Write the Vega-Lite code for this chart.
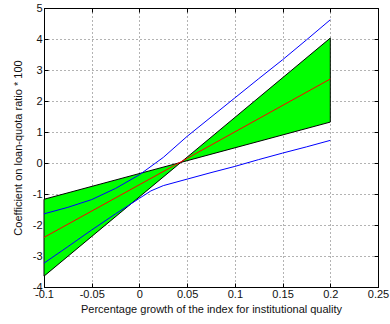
{
  "$schema": "https://vega.github.io/schema/vega-lite/v6.json",
  "width": 334,
  "height": 279,
  "autosize": {"type": "none"},
  "padding": {"left": 44, "top": 8, "right": 12, "bottom": 37},
  "background": "white",
  "config": {
    "view": {"stroke": "black", "strokeWidth": 1},
    "axis": {
      "labelFont": "Liberation Sans",
      "labelFontSize": 11,
      "labelColor": "#111",
      "titleFont": "Liberation Sans",
      "titleFontSize": 11,
      "titleFontWeight": "normal",
      "titleColor": "#111",
      "domainColor": "black",
      "tickColor": "black",
      "gridColor": "#000",
      "gridDash": [1, 3],
      "gridOpacity": 0.6
    }
  },
  "datasets": {
    "band": [
      {"x": -0.1, "a": -1.17, "b": -3.65},
      {"x": 0.0434, "a": 0.02, "b": 0.02},
      {"x": 0.2, "a": 1.32, "b": 4.03}
    ],
    "red": [
      {"x": -0.1, "y": -2.4},
      {"x": 0.05, "y": 0.15},
      {"x": 0.2, "y": 2.71}
    ],
    "blue": [
      {"x": -0.1, "y": -1.64, "s": "up"},
      {"x": -0.075, "y": -1.43, "s": "up"},
      {"x": -0.05, "y": -1.18, "s": "up"},
      {"x": -0.025, "y": -0.82, "s": "up"},
      {"x": 0, "y": -0.38, "s": "up"},
      {"x": 0.025, "y": 0.18, "s": "up"},
      {"x": 0.05, "y": 0.86, "s": "up"},
      {"x": 0.075, "y": 1.48, "s": "up"},
      {"x": 0.1, "y": 2.1, "s": "up"},
      {"x": 0.125, "y": 2.72, "s": "up"},
      {"x": 0.15, "y": 3.33, "s": "up"},
      {"x": 0.175, "y": 3.97, "s": "up"},
      {"x": 0.2, "y": 4.62, "s": "up"},
      {"x": -0.1, "y": -3.23, "s": "lo"},
      {"x": -0.075, "y": -2.7, "s": "lo"},
      {"x": -0.05, "y": -2.16, "s": "lo"},
      {"x": -0.025, "y": -1.64, "s": "lo"},
      {"x": 0, "y": -1.14, "s": "lo"},
      {"x": 0.012, "y": -0.9, "s": "lo"},
      {"x": 0.025, "y": -0.73, "s": "lo"},
      {"x": 0.05, "y": -0.52, "s": "lo"},
      {"x": 0.075, "y": -0.31, "s": "lo"},
      {"x": 0.1, "y": -0.11, "s": "lo"},
      {"x": 0.125, "y": 0.11, "s": "lo"},
      {"x": 0.15, "y": 0.32, "s": "lo"},
      {"x": 0.175, "y": 0.52, "s": "lo"},
      {"x": 0.2, "y": 0.73, "s": "lo"}
    ]
  },
  "resolve": {"axis": {"x": "independent", "y": "independent"}},
  "layer": [
    {
      "data": {"name": "band"},
      "mark": {"type": "area", "fill": "#00ff00", "stroke": "black", "strokeWidth": 1, "fillOpacity": 1},
      "encoding": {
        "x": {
          "field": "x", "type": "quantitative",
          "scale": {"domain": [-0.1, 0.25], "nice": false, "zero": false},
          "axis": {
            "orient": "bottom",
            "values": [-0.1, -0.05, 0, 0.05, 0.1, 0.15, 0.2, 0.25],
            "labelExpr": "'' + datum.value",
            "title": "Percentage growth of the index for institutional quality",
            "tickSize": -4, "labelPadding": 5, "titlePadding": 4,
            "grid": true, "labelFlush": false
          }
        },
        "y": {
          "field": "a", "type": "quantitative",
          "scale": {"domain": [-4, 5], "nice": false, "zero": false},
          "axis": {
            "orient": "left",
            "values": [-4, -3, -2, -1, 0, 1, 2, 3, 4, 5],
            "labelExpr": "'' + datum.value",
            "title": "Coefficient on loan-quota ratio * 100",
            "tickSize": -4, "labelPadding": 6, "titlePadding": 9,
            "grid": true, "labelFlush": false
          }
        },
        "y2": {"field": "b"}
      }
    },
    {
      "data": {"name": "blue"},
      "mark": {"type": "line", "stroke": "#0000ff", "strokeWidth": 1},
      "encoding": {
        "x": {
          "field": "x", "type": "quantitative",
          "axis": {"orient": "top", "values": [-0.1, -0.05, 0, 0.05, 0.1, 0.15, 0.2, 0.25], "labels": false, "domain": false, "grid": false, "tickSize": -4, "title": null}
        },
        "y": {
          "field": "y", "type": "quantitative",
          "axis": {"orient": "right", "values": [-4, -3, -2, -1, 0, 1, 2, 3, 4, 5], "labels": false, "domain": false, "grid": false, "tickSize": -4, "title": null}
        },
        "detail": {"field": "s"}
      }
    },
    {
      "data": {"name": "red"},
      "mark": {"type": "line", "stroke": "#ff0000", "strokeWidth": 1},
      "encoding": {
        "x": {"field": "x", "type": "quantitative", "axis": null},
        "y": {"field": "y", "type": "quantitative", "axis": null}
      }
    }
  ]
}
